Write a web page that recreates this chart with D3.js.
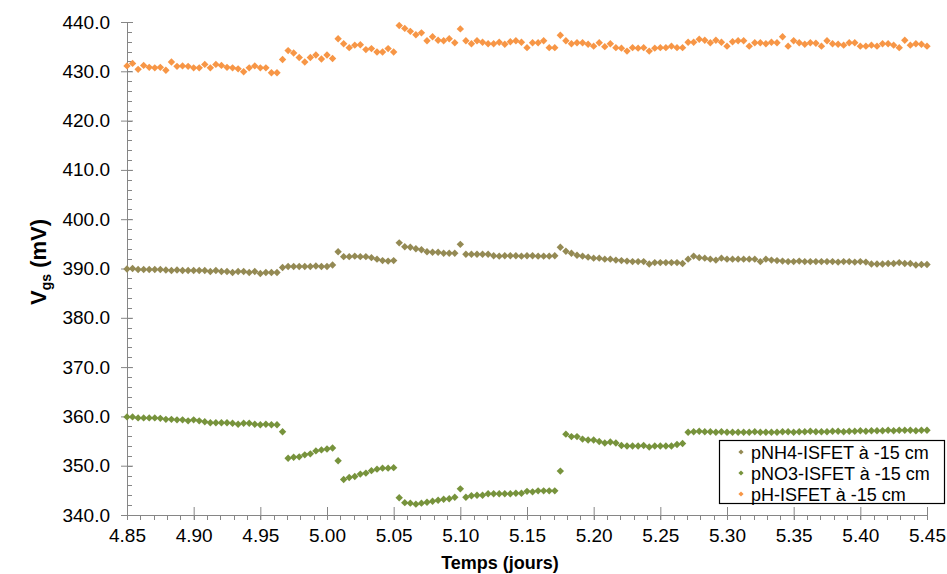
<!DOCTYPE html>
<html>
<head>
<meta charset="utf-8">
<script src="https://cdn.jsdelivr.net/npm/d3@7"></script>
<style>
  html, body { margin: 0; padding: 0; background: #fff; }
  svg { display: block; font-family: "Liberation Sans", Arial, sans-serif; }
</style>
</head>
<body>
<svg id="chart" width="947" height="574"></svg>
<script>
// ---- Data ----
const seriesNames = ["pNH4-ISFET à -15 cm", "pNO3-ISFET à -15 cm", "pH-ISFET à -15 cm"];
const timeStart = 4.85;          // jours
const timeStep = 1 / 240;        // one sample every 6 minutes
const xTicks = [4.85, 4.90, 4.95, 5.00, 5.05, 5.10, 5.15, 5.20, 5.25, 5.30, 5.35, 5.40, 5.45];
const yTicks = [340, 350, 360, 370, 380, 390, 400, 410, 420, 430, 440];

const pNH4 = [
  389.9,390.0,389.8,389.8,389.8,389.8,389.8,389.7,389.6,389.7,
  389.6,389.6,389.6,389.6,389.6,389.4,389.6,389.4,389.4,389.2,
  389.4,389.4,389.2,389.4,389.0,389.2,389.2,389.2,390.2,390.4,
  390.4,390.4,390.4,390.4,390.5,390.4,390.4,390.7,393.4,392.4,
  392.4,392.5,392.4,392.4,392.2,391.9,391.6,391.5,391.6,395.2,
  394.4,394.3,394.0,393.8,393.4,393.3,393.3,393.1,393.1,393.1,
  394.9,392.9,392.9,392.9,392.9,392.9,392.6,392.5,392.6,392.6,
  392.6,392.5,392.6,392.6,392.5,392.5,392.5,392.6,394.3,393.5,
  393.1,392.7,392.5,392.3,392.1,392.1,391.9,391.9,391.7,391.6,
  391.5,391.4,391.4,391.4,390.9,391.2,391.2,391.2,391.2,391.2,
  391.0,391.9,392.5,392.2,392.1,391.9,391.7,392.1,391.9,391.9,
  391.9,391.9,391.9,391.9,391.4,391.9,391.7,391.6,391.5,391.4,
  391.4,391.5,391.4,391.4,391.4,391.4,391.4,391.4,391.3,391.4,
  391.4,391.3,391.4,391.3,390.9,390.9,390.9,391.0,391.0,391.2,
  391.0,391.0,390.7,390.8,390.8
];

const pNO3 = [
  359.9,359.9,359.7,359.7,359.7,359.7,359.6,359.4,359.4,359.3,
  359.3,359.1,359.3,359.1,358.9,358.7,358.7,358.7,358.7,358.6,
  358.4,358.6,358.6,358.4,358.3,358.4,358.3,358.3,356.9,351.5,
  351.7,351.8,352.2,352.4,353.0,353.2,353.4,353.6,351.0,347.2,
  347.6,347.8,348.3,348.5,349.0,349.3,349.5,349.5,349.6,343.5,
  342.5,342.4,342.2,342.4,342.6,342.8,343.0,343.2,343.3,343.6,
  345.3,343.6,343.9,344.0,344.0,344.3,344.3,344.3,344.3,344.3,
  344.4,344.4,344.8,344.7,344.9,344.9,344.9,344.9,348.9,356.4,
  355.9,355.9,355.4,355.2,355.2,354.9,354.6,354.8,354.6,354.1,
  354.0,354.0,354.0,354.1,353.8,354.0,354.0,354.0,354.0,354.3,
  354.5,356.8,356.9,357.0,356.9,356.9,356.8,356.9,356.8,356.8,
  356.8,356.8,356.8,356.9,356.8,356.8,356.8,356.8,356.9,356.9,
  356.8,356.9,356.9,357.0,356.9,356.9,356.9,357.0,357.0,356.9,
  357.0,357.0,357.1,357.0,357.1,357.1,357.1,357.2,357.1,357.2,
  357.2,357.2,357.1,357.2,357.2
];

const pH = [
  431.1,431.6,430.4,431.2,430.8,430.7,430.8,430.2,431.9,431.0,
  431.1,431.0,430.7,430.7,431.4,430.7,431.4,431.2,430.8,430.7,
  430.5,429.9,430.7,431.1,430.7,430.7,429.7,429.7,432.4,434.2,
  433.7,432.8,431.9,432.8,433.3,432.5,433.3,432.6,436.6,435.6,
  434.8,435.3,435.4,434.4,434.6,433.9,433.9,434.6,433.9,439.3,
  438.7,438.1,437.4,437.8,436.2,437.0,436.3,436.2,436.6,435.8,
  438.6,436.2,435.6,436.2,435.9,435.6,435.6,435.9,435.5,436.0,
  436.2,435.9,434.8,435.8,435.8,436.2,434.8,434.8,437.3,436.2,
  435.6,435.8,435.8,435.5,435.1,435.8,435.0,435.6,434.8,434.7,
  434.1,434.8,434.7,434.8,434.1,434.7,434.8,434.8,435.1,434.8,
  434.8,435.9,435.9,436.5,436.3,435.8,436.3,435.9,435.1,436.0,
  436.2,436.2,435.1,435.8,435.8,435.6,435.9,435.8,437.0,435.1,
  436.2,435.8,435.5,435.8,435.7,435.1,436.2,435.6,435.5,435.3,
  435.8,435.8,435.1,435.1,435.3,435.1,435.6,435.6,435.3,434.8,
  436.3,435.3,435.6,435.5,435.1
];

const seriesValues = [pNH4, pNO3, pH];
const seriesColors = ["#948A54", "#77933C", "#F79646"];

// ---- Layout ----
const W = 947, H = 574;
const margin = { left: 127, right: 20, top: 22, bottom: 59 };
const svg = d3.select("#chart");

const x = d3.scaleLinear().domain([4.85, 5.45]).range([margin.left, W - margin.right]);
const y = d3.scaleLinear().domain([340, 440]).range([H - margin.bottom, margin.top]);

const axisColor = "#868686";

// minor ticks
const xMinor = d3.range(0, 61).map(i => 4.85 + i * 0.01);
const yMinor = d3.range(0, 51).map(i => 340 + i * 2);

const gx = svg.append("g");
gx.selectAll("line.minor").data(xMinor).join("line")
  .attr("x1", d => Math.round(x(d)) + 0.5).attr("x2", d => Math.round(x(d)) + 0.5)
  .attr("y1", y(340)).attr("y2", y(340) + 5)
  .attr("stroke", axisColor).attr("stroke-width", 1);
const gy = svg.append("g");
gy.selectAll("line.minor").data(yMinor).join("line")
  .attr("x1", x(4.85)).attr("x2", x(4.85) + 5)
  .attr("y1", d => Math.round(y(d)) + 0.5).attr("y2", d => Math.round(y(d)) + 0.5)
  .attr("stroke", axisColor).attr("stroke-width", 1);

// major axes via d3 axis
const xAxis = d3.axisBottom(x).tickValues(xTicks).tickFormat(d3.format(".2f"))
  .tickSizeInner(5).tickSizeOuter(0).tickPadding(9);
const xg = svg.append("g").attr("transform", `translate(0,${y(340)})`).call(xAxis);
xg.select(".domain").attr("stroke", axisColor);
xg.selectAll(".tick line").attr("stroke", axisColor).attr("y1", -8);
xg.selectAll(".tick text").attr("font-size", 19).attr("fill", "#000")
  .attr("font-family", "'Liberation Sans', Arial, sans-serif");

const yAxis = d3.axisLeft(y).tickValues(yTicks).tickFormat(d3.format(".1f"))
  .tickSizeInner(6).tickSizeOuter(0).tickPadding(11);
const yg = svg.append("g").attr("transform", `translate(${x(4.85)},0)`).call(yAxis);
yg.select(".domain").attr("stroke", axisColor);
yg.selectAll(".tick line").attr("stroke", axisColor).attr("x2", 6).attr("x1", -6);
yg.selectAll(".tick text").attr("font-size", 19).attr("fill", "#000")
  .attr("font-family", "'Liberation Sans', Arial, sans-serif");

// ---- Markers ----
const diamond = r => `M0,${-r}L${r},0L0,${r}L${-r},0Z`;
seriesValues.forEach((vals, si) => {
  svg.append("g").selectAll("path").data(vals).join("path")
    .attr("d", diamond(3.7))
    .attr("transform", (d, i) => `translate(${x(timeStart + i * timeStep)},${y(d)})`)
    .attr("fill", seriesColors[si]);
});

// ---- Axis titles ----
svg.append("text")
  .attr("x", 500).attr("y", 569)
  .attr("text-anchor", "middle")
  .attr("font-size", 18).attr("font-weight", "bold")
  .text("Temps (jours)");

const yt = svg.append("text")
  .attr("transform", "translate(46,262) rotate(-90)")
  .attr("text-anchor", "middle")
  .attr("font-size", 22).attr("font-weight", "bold");
yt.append("tspan").text("V");
yt.append("tspan").attr("font-size", 14).attr("dy", 5).text("gs");
yt.append("tspan").attr("dy", -5).text(" (mV)");

// ---- Legend ----
const lg = svg.append("g");
lg.append("rect")
  .attr("x", 719.5).attr("y", 440.5).attr("width", 225).attr("height", 63)
  .attr("fill", "#fff").attr("stroke", "#000").attr("stroke-width", 1.2);
seriesNames.forEach((name, i) => {
  const cy = 452 + i * 21;
  lg.append("path").attr("d", diamond(2.6))
    .attr("transform", `translate(741,${cy})`)
    .attr("fill", seriesColors[i]);
  lg.append("text").attr("x", 751).attr("y", cy + 6.5)
    .attr("font-size", 18).attr("fill", "#000").text(name);
});
</script>
</body>
</html>
